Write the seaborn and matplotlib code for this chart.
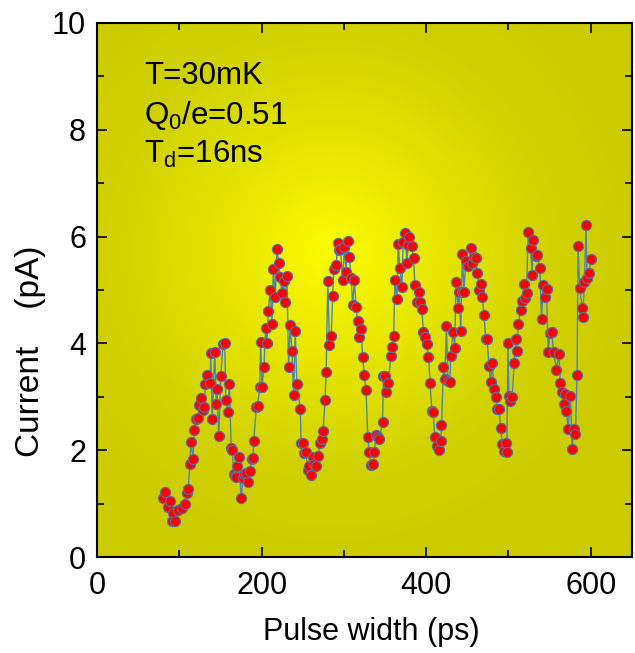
import numpy as np
import pandas as pd
import matplotlib
matplotlib.use("Agg")
import matplotlib.pyplot as plt
import seaborn as sns
from matplotlib.colors import LinearSegmentedColormap
from matplotlib.ticker import MultipleLocator

pulse_width = [80.4, 82.4, 85.6, 88.5, 90.5, 92.5, 94.5, 98.6, 102.6, 106.7, 109.5, 110.7,
               112.7, 113.9, 116.7, 117.9, 120.7, 122.5, 124.0, 126.8, 128.5, 130.0, 131.6,
               134.0, 137.0, 138.2, 139.8, 143.0, 145.0, 145.5, 147.9, 150.3, 153.0, 155.0,
               156.4, 159.0, 160.7, 163.0, 164.5, 166.0, 167.5, 169.0, 170.5, 172.5, 175.0,
               177.4, 179.0, 181.4, 183.4, 185.5, 187.9, 189.5, 190.3, 193.5, 195.0, 197.6,
               198.8, 200.4, 202.8, 204.8, 206.4, 208.0, 210.5, 212.5, 214.2, 216.6, 218.5,
               220.6, 222.2, 224.6, 226.7, 228.7, 230.7, 232.7, 234.7, 236.8, 238.8, 240.8,
               242.8, 246.9, 248.0, 250.0, 251.0, 254.0, 256.0, 258.0, 260.0, 262.0, 264.0,
               266.0, 268.0, 271.5, 273.0, 274.7, 277.0, 278.4, 280.4, 282.4, 284.5, 286.4,
               287.6, 290.5, 292.5, 294.0, 295.8, 298.6, 300.6, 302.6, 304.6, 306.7, 308.7,
               310.7, 312.7, 314.7, 316.8, 318.8, 320.8, 322.8, 324.8, 326.9, 329.0, 331.0,
               333.0, 335.0, 337.0, 339.0, 341.0, 343.0, 347.0, 348.0, 350.0, 351.0, 354.0,
               357.0, 359.0, 360.4, 362.0, 364.4, 366.0, 368.0, 370.5, 372.0, 374.5, 376.6,
               378.0, 379.4, 382.7, 384.6, 386.3, 388.7, 390.7, 392.7, 394.7, 396.7, 398.8,
               400.8, 402.8, 404.8, 406.9, 408.5, 410.5, 413.7, 415.8, 417.8, 418.6, 421.0,
               422.6, 424.6, 426.5, 428.7, 429.8, 432.7, 434.8, 436.0, 438.8, 440.0, 442.0,
               443.0, 444.0, 446.0, 448.0, 451.3, 454.0, 456.0, 458.0, 460.0, 462.2, 464.2,
               466.2, 468.3, 470.3, 472.3, 474.0, 476.4, 478.3, 480.4, 482.4, 484.5, 486.4,
               488.5, 490.5, 492.5, 494.5, 496.6, 498.0, 499.4, 500.6, 502.5, 504.6, 506.9,
               508.7, 510.0, 511.9, 514.7, 516.8, 518.8, 520.0, 522.0, 523.9, 526.9, 528.8,
               530.0, 532.9, 535.0, 538.2, 540.2, 542.2, 544.2, 546.3, 548.2, 550.3, 552.5,
               555.0, 558.4, 561.2, 563.2, 565.2, 567.3, 569.0, 570.5, 572.5, 575.4, 577.4,
               579.4, 581.4, 583.4, 584.6, 586.7, 589.5, 590.3, 592.4, 594.3, 595.5, 597.6,
               600.4]
current = [1.11, 1.21, 0.94, 1.04, 0.68, 0.82, 0.68, 0.88, 0.91, 0.99, 1.20, 1.27,
           1.74, 2.15, 1.83, 2.38, 2.58, 2.60, 2.85, 2.97, 2.75, 2.80, 3.24,
           3.41, 3.25, 3.81, 2.58, 3.83, 2.87, 3.15, 2.27, 3.39, 3.99, 4.01,
           2.94, 2.72, 3.24, 2.04, 2.00, 1.55, 1.52, 1.50, 1.70, 1.88, 1.10,
           1.47, 1.55, 1.57, 1.41, 1.61, 1.83, 1.85, 2.18, 2.81, 2.82, 3.19,
           4.02, 3.19, 3.55, 4.28, 4.00, 4.61, 5.00, 4.37, 5.39, 4.87, 5.76,
           5.51, 5.25, 4.95, 5.17, 4.78, 5.27, 3.56, 4.34, 3.85, 3.03, 4.23,
           3.24, 2.77, 2.13, 2.14, 1.95, 1.97, 1.62, 1.70, 1.54, 1.88, 1.75,
           1.70, 1.89, 2.14, 2.20, 2.35, 2.94, 3.47, 5.17, 3.97, 4.13, 4.89,
           5.39, 5.46, 5.87, 5.75, 5.77, 5.19, 5.81, 5.34, 5.92, 5.62, 5.22,
           4.72, 5.19, 4.68, 4.41, 4.11, 4.27, 3.74, 3.40, 3.13, 2.24, 1.96,
           1.72, 1.75, 1.97, 2.28, 2.24, 2.20, 2.52, 3.39, 3.39, 3.08, 3.26,
           3.77, 3.94, 4.13, 5.19, 4.83, 5.86, 5.41, 5.06, 5.90, 6.07, 5.50,
           5.85, 6.00, 5.82, 5.59, 5.09, 4.77, 4.97, 4.78, 4.64, 4.22, 4.11,
           3.99, 3.74, 3.25, 2.74, 2.72, 2.24, 2.08, 2.00, 2.18, 2.47, 3.55,
           3.33, 4.33, 3.30, 3.27, 3.77, 4.22, 3.91, 5.14, 4.67, 4.97, 4.23,
           4.97, 5.67, 4.96, 5.55, 5.45, 5.79, 5.50, 5.62, 5.60, 5.32, 5.00,
           5.12, 4.86, 4.54, 4.08, 4.08, 3.58, 3.27, 3.64, 3.15, 2.99, 2.77,
           2.77, 2.41, 2.12, 1.99, 2.13, 1.96, 4.00, 3.01, 2.92, 3.00, 3.64,
           4.08, 3.86, 4.36, 4.62, 4.80, 5.11, 4.85, 4.94, 6.08, 5.78, 5.28,
           5.94, 5.64, 5.65, 5.41, 4.45, 5.09, 4.87, 5.01, 3.84, 4.20, 4.22,
           3.83, 3.51, 3.80, 3.25, 3.08, 2.87, 3.05, 2.74, 2.39, 3.01, 2.02,
           2.40, 2.30, 3.40, 5.82, 5.04, 4.67, 4.50, 5.14, 6.22, 5.23, 5.31,
           5.57]

x_ticks = [0, 200, 400, 600]
y_ticks = [0, 2, 4, 6, 8, 10]
annotations = ["T=30mK", "Q$_0$/e=0.51", "T$_d$=16ns"]

df = pd.DataFrame({"pw": pulse_width, "cur": current})

sns.set_style("ticks")
plt.rcParams["font.family"] = ["Liberation Sans", "DejaVu Sans"]
plt.rcParams["mathtext.fontset"] = "custom"
plt.rcParams["mathtext.rm"] = "Liberation Sans"
plt.rcParams["mathtext.it"] = "Liberation Sans"
plt.rcParams["mathtext.default"] = "regular"
plt.rcParams["text.color"] = "black"
plt.rcParams["axes.labelcolor"] = "black"
plt.rcParams["xtick.color"] = "black"
plt.rcParams["ytick.color"] = "black"
plt.rcParams["axes.edgecolor"] = "black"

fig = plt.figure(figsize=(6.35, 6.53), dpi=100)
ax = fig.add_axes([0.153, 0.147, 0.842, 0.818])

xmax = 650
ax.set_xlim(0, xmax)
ax.set_ylim(0, 10)

# radial yellow gradient background
gx = np.linspace(0, 1, 300)
gy = np.linspace(0, 1, 300)
GX, GY = np.meshgrid(gx, gy)
cx, cy = 0.44, 0.57
r = np.sqrt(((GX - cx) / 0.6) ** 2 + ((GY - cy) / 0.6) ** 2)
r = np.clip(r, 0, 1)
cmap = LinearSegmentedColormap.from_list("yel", ["#fbfb00", "#e6e600", "#d2d200", "#cbcb00"])
ax.imshow(r, cmap=cmap, extent=[0, xmax, 0, 10], origin="lower", aspect="auto",
          zorder=0, vmin=0, vmax=1, interpolation="bilinear")

sns.lineplot(data=df, x="pw", y="cur", ax=ax, color="#4f86a8", linewidth=1.0,
             estimator=None, sort=True, zorder=2)
sns.scatterplot(data=df, x="pw", y="cur", ax=ax, color="#ff0000", edgecolor="#5a6f9c",
                linewidth=0.9, s=52, zorder=3)

ax.set_xticks(x_ticks)
ax.set_yticks(y_ticks)
ax.xaxis.set_minor_locator(MultipleLocator(100))
ax.yaxis.set_minor_locator(MultipleLocator(1))
ax.tick_params(which="both", direction="in", top=True, right=True, width=1.2,
               labelsize=22)
ax.tick_params(axis="x", pad=10)
ax.tick_params(axis="y", pad=8)
ax.tick_params(which="major", length=7)
ax.tick_params(which="minor", length=5)
for s in ax.spines.values():
    s.set_linewidth(1.5)
    s.set_zorder(5)

ax.set_xlabel("Pulse width (ps)", fontsize=22)
ax.xaxis.set_label_coords(0.512, -0.112)
ax.set_ylabel("Current    (pA)", fontsize=24)
ax.yaxis.set_label_coords(-0.095, 0.386)

for i, t in enumerate(annotations):
    ax.text(0.088, 0.9 - i * 0.073, t, transform=ax.transAxes, fontsize=22.5,
            va="center", ha="left", zorder=6)

fig.savefig("out.png", dpi=100)
